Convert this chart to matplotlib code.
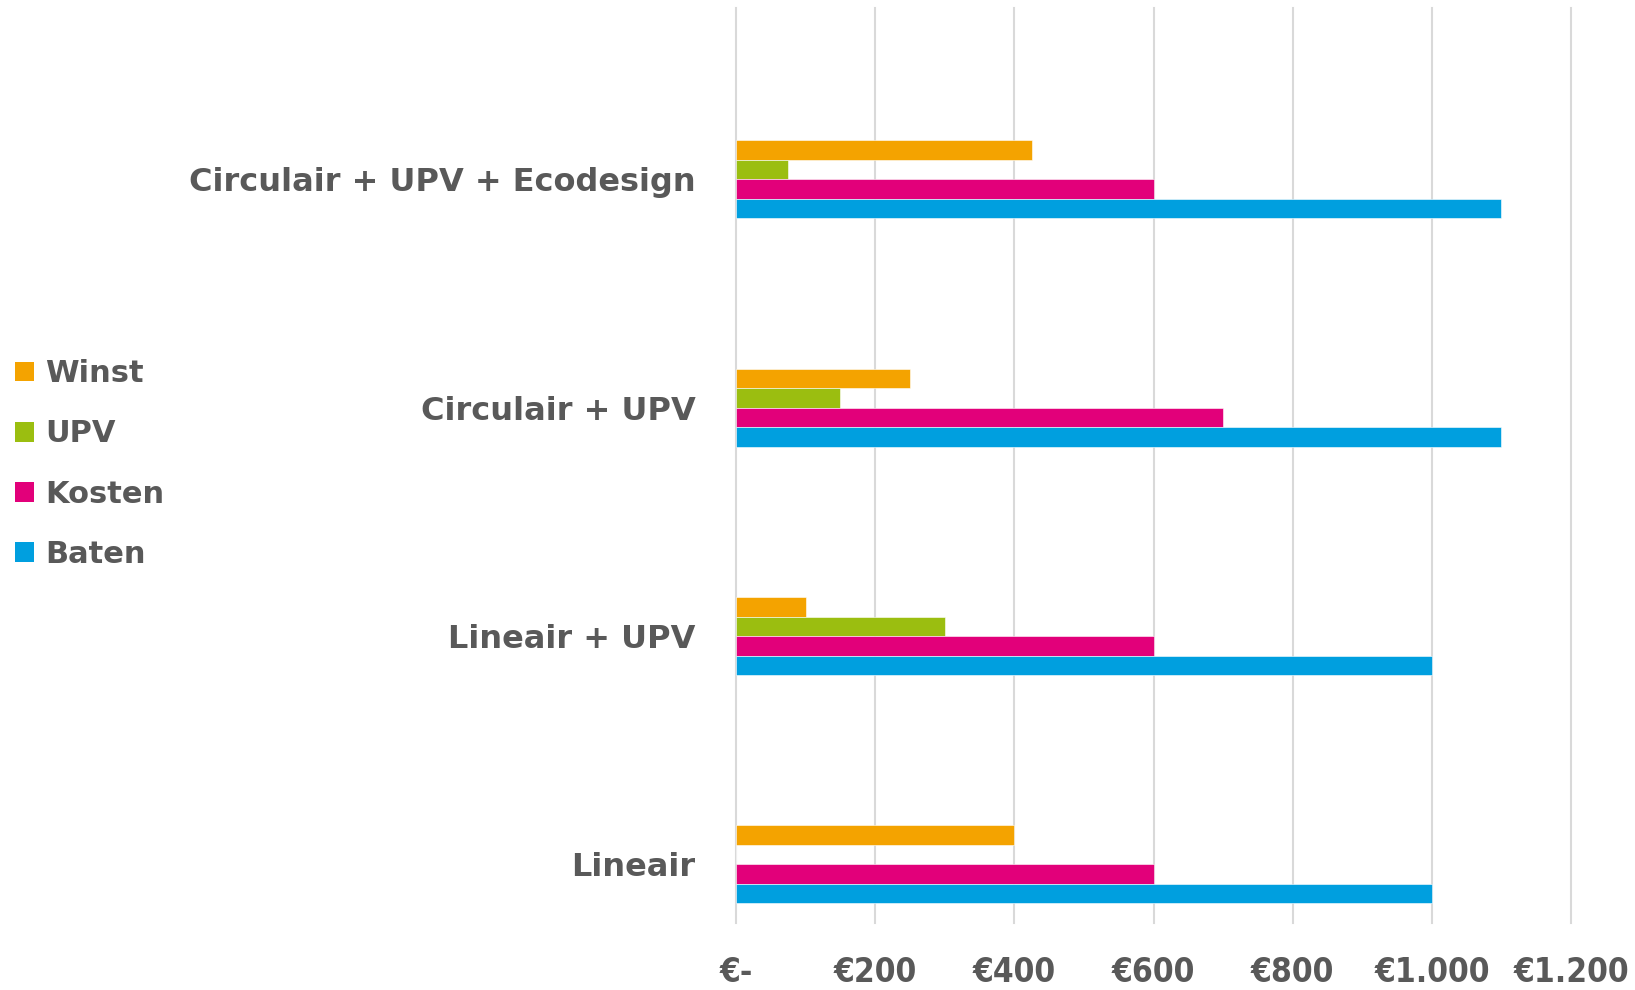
import matplotlib
matplotlib.use("Agg")
import matplotlib.pyplot as plt
from matplotlib.patches import Patch
import numpy as np

# ---- data ----
categories = ["Lineair", "Lineair + UPV", "Circulair + UPV", "Circulair + UPV + Ecodesign"]
series_names = ["Winst", "UPV", "Kosten", "Baten"]
winst = [400, 100, 250, 425]
upv = [0, 300, 150, 75]
kosten = [600, 600, 700, 600]
baten = [1000, 1000, 1100, 1100]
x_ticks = [0, 200, 400, 600, 800, 1000, 1200]
x_tick_labels = ["€-", "€200", "€400", "€600", "€800", "€1.000", "€1.200"]

colors = {"Winst": "#F4A300", "UPV": "#9BBE10", "Kosten": "#E2007A", "Baten": "#009FDF"}
text_color = "#595959"
font_family = ["DejaVu Sans"]

fig = plt.figure(figsize=(16.35, 9.9), dpi=100)
ax = fig.add_axes([736 / 1635, 1 - 923 / 990, (1571 - 736) / 1635, (923 - 8) / 990])

y = np.arange(len(categories))
h = 0.0855
values = {"Winst": winst, "UPV": upv, "Kosten": kosten, "Baten": baten}
offsets = {"Winst": 1.5 * h, "UPV": 0.5 * h, "Kosten": -0.5 * h, "Baten": -1.5 * h}
for name in series_names:
    ax.barh(y + offsets[name], values[name], height=h, color=colors[name],
            edgecolor="white", linewidth=0.4, zorder=3)

ax.set_xlim(0, 1200)
ax.set_ylim(-0.257, 3.751)
ax.set_xticks(x_ticks)
ax.set_xticklabels(x_tick_labels, fontsize=24, fontweight="bold", color=text_color,
                   family=font_family, fontstretch="condensed")
ax.set_yticks(y)
ax.set_yticklabels(categories, fontsize=23, fontweight="bold", color=text_color,
                   family=font_family)
ax.tick_params(axis="x", length=0, pad=24)
ax.tick_params(axis="y", length=0, pad=29)
ax.grid(axis="x", color="#D9D9D9", linewidth=1.5, zorder=0)
for gl in ax.get_xgridlines():
    gl.set_clip_on(False)
ax.set_axisbelow(True)
for s in ax.spines.values():
    s.set_visible(False)

handles = [Patch(facecolor=colors[n], edgecolor="none", label=n) for n in series_names]
leg = fig.legend(handles=handles, loc="center left", bbox_to_anchor=(0.0, 1 - 464 / 990),
                 frameon=False, handlelength=0.62, handleheight=0.62, handletextpad=0.35,
                 labelspacing=1.02, borderaxespad=0.0, borderpad=0.5,
                 prop={"family": font_family, "weight": "bold", "size": 22})
for t in leg.get_texts():
    t.set_color(text_color)

fig.savefig("out.png", dpi=100)
